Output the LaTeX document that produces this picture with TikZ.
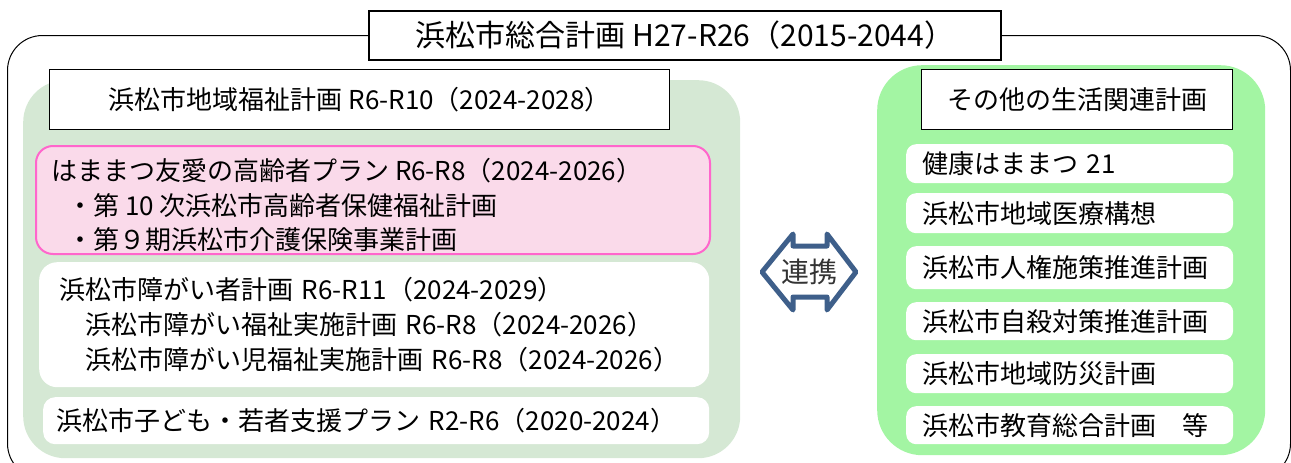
\documentclass[tikz,border=0pt]{standalone}
\usepackage{fontspec}
\setmainfont{Noto Sans CJK JP}
\usetikzlibrary{positioning}
\definecolor{welfareGreen}{RGB}{213,232,212}
\definecolor{otherGreen}{RGB}{163,245,163}
\definecolor{elderFill}{RGB}{250,218,234}
\definecolor{elderLine}{RGB}{255,102,204}
\definecolor{linkBlue}{RGB}{62,95,138}
\tikzset{%
  % Specifications for style of nodes:
         base/.style = {rectangle, anchor=north west, inner sep=0pt,
                        font=\fontsize{26}{35}\selectfont},
        frame/.style = {base, draw=black, line width=1pt, rounded corners=35pt},
      heading/.style = {base, draw=black, line width=1.3pt, fill=white,
                        text centered},
    mainTitle/.style = {heading, line width=1.8pt,
                        font=\fontsize{30}{35}\selectfont},
         area/.style = {base, rounded corners=42pt},
         plan/.style = {base, fill=white, rounded corners=14pt, align=left},
    elderPlan/.style = {plan, fill=elderFill, draw=elderLine, line width=2pt,
                        rounded corners=17pt},
     itemPlan/.style = {plan, rounded corners=10pt, inner xsep=16pt,
                        text width=295pt, minimum width=327pt},
}

\begin{document}
\begin{tikzpicture}[x=1pt, y=-1pt]
    \clip (0,0) rectangle (1291,463);

    \node (whole)    [frame, minimum width=1283pt, minimum height=443pt] at (7,35) {};
    \node (title)    [mainTitle, minimum width=632pt, minimum height=49pt] at (368,10)
                     {浜松市総合計画 H27-R26（2015-2044）};

    % left: welfare plans
    \node (welfare)  [area, fill=welfareGreen, minimum width=717pt, minimum height=378pt] at (23,80) {};
    \node (welfareTitle) [heading, minimum width=620pt, minimum height=60pt] at (49,69)
                     {浜松市地域福祉計画 R6-R10（2024-2028）};
    \node (elder)    [elderPlan, minimum width=674pt, minimum height=108pt] at (35,145) {};
    \node (elderText) [base, align=left, font=\fontsize{26}{34.5}\selectfont,
                       right=16pt of elder.west, anchor=west, yshift=-5pt]
                     {はままつ友愛の高齢者プラン R6-R8（2024-2026）\\
                      \hspace*{16pt}・第 10 次浜松市高齢者保健福祉計画\\
                      \hspace*{16pt}・第９期浜松市介護保険事業計画};
    \node (disability) [plan, rounded corners=18pt, inner xsep=20pt, text width=630pt, minimum height=125pt] at (39,262)
                     {浜松市障がい者計画 R6-R11（2024-2029）\\
                      \hspace*{26pt}浜松市障がい福祉実施計画 R6-R8（2024-2026）\\
                      \hspace*{26pt}浜松市障がい児福祉実施計画 R6-R8（2024-2026）};
    \node (child)    [plan, rounded corners=12pt, inner xsep=13pt, text width=640pt, minimum height=47pt] at (43,397)
                     {浜松市子ども・若者支援プラン R2-R6（2020-2024）};

    % right: other plans
    \node (other)    [area, rounded corners=45pt, fill=otherGreen, minimum width=388pt, minimum height=390pt] at (877,65) {};
    \node (otherTitle) [heading, minimum width=311pt, minimum height=60pt] at (921,69)
                     {その他の生活関連計画};
    \node (health)   [itemPlan, minimum height=39pt] at (906,144) {健康はままつ 21};
    \node (medical)  [itemPlan, minimum height=40pt] at (906,193) {浜松市地域医療構想};
    \node (rights)   [itemPlan, minimum height=43pt] at (906,246) {浜松市人権施策推進計画};
    \node (suicide)  [itemPlan, minimum height=38pt] at (906,302) {浜松市自殺対策推進計画};
    \node (disaster) [itemPlan, minimum height=39pt] at (906,354) {浜松市地域防災計画};
    \node (education)[itemPlan, minimum height=38pt] at (906,406) {浜松市教育総合計画　等};

    % link between both sides
    \draw[linkBlue, line width=5pt, line join=round, fill=white]
        (762,272) -- (793,234) -- (793,246) -- (827,246) -- (827,234) -- (856,272)
        -- (827,310) -- (827,297) -- (793,297) -- (793,310) -- cycle;
    \node (link) at (809,272) [font=\fontsize{28}{30}\selectfont, text=black!80] {連携};

\end{tikzpicture}
\end{document}
